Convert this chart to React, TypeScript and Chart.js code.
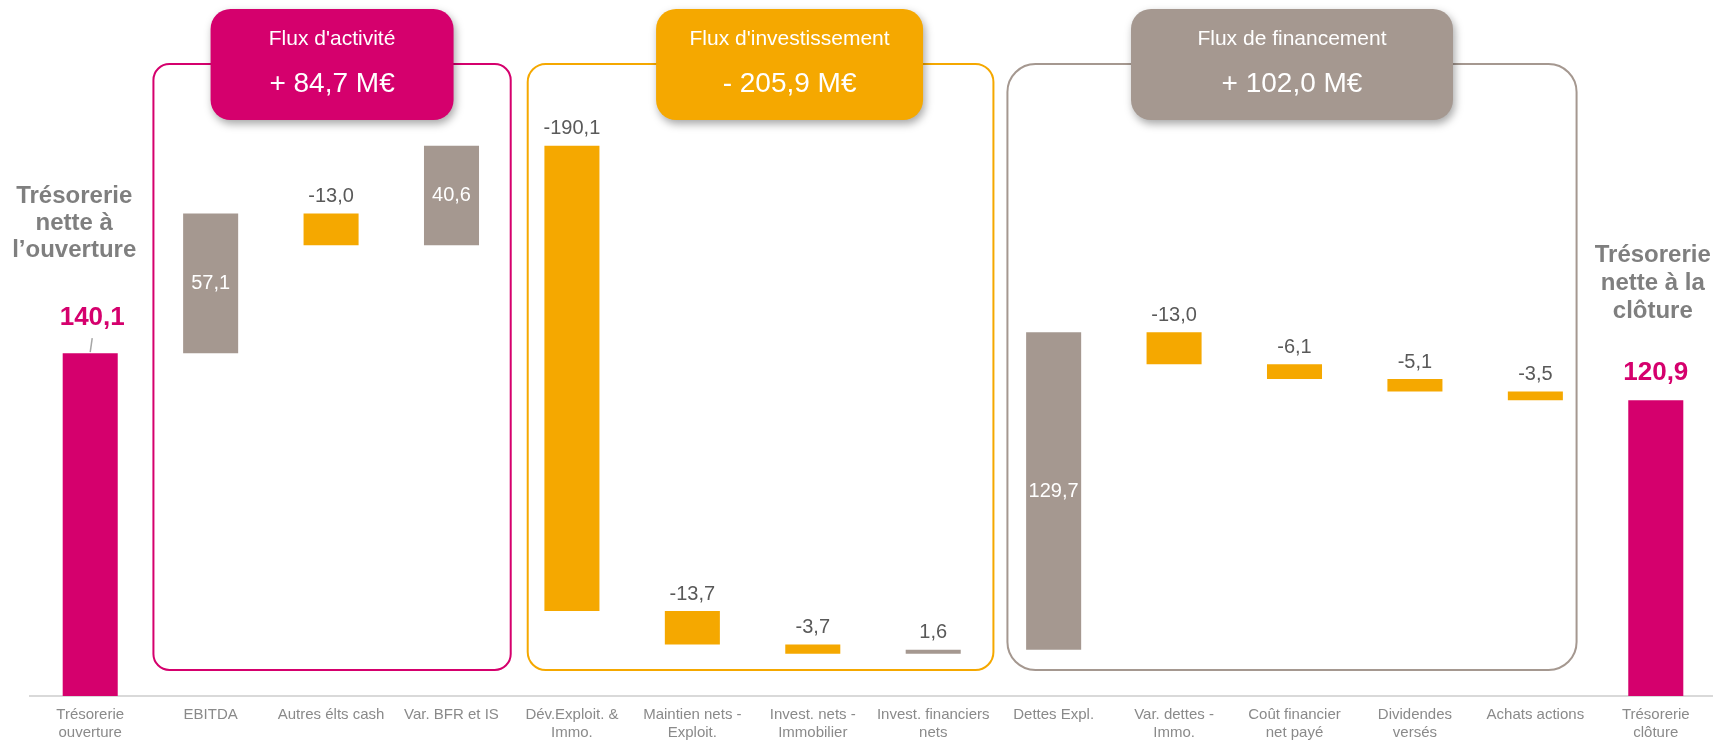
import React, { useEffect, useRef } from "react";
import { Chart, registerables } from "chart.js";

Chart.register(...registerables);

// ---------------- data ----------------
const categories: string[][] = [
  ["Trésorerie", "ouverture"],
  ["EBITDA"],
  ["Autres élts cash"],
  ["Var. BFR et IS"],
  ["Dév.Exploit. &", "Immo."],
  ["Maintien nets -", "Exploit."],
  ["Invest. nets -", "Immobilier"],
  ["Invest. financiers", "nets"],
  ["Dettes Expl."],
  ["Var. dettes -", "Immo."],
  ["Coût financier", "net payé"],
  ["Dividendes", "versés"],
  ["Achats actions"],
  ["Trésorerie", "clôture"],
];
const openingCash = 140.1;
const flows = [57.1, -13.0, 40.6, -190.1, -13.7, -3.7, 1.6, 129.7, -13.0, -6.1, -5.1, -3.5];
const closingCash = 120.9;

const groupNames = ["Flux d'activité", "Flux d'investissement", "Flux de financement"];
const groupTotals = ["+ 84,7 M€", "- 205,9 M€", "+ 102,0 M€"];
const groupFirst = [1, 4, 8];
const groupLast = [3, 7, 12];

const openTitle = ["Trésorerie", "nette à", "l’ouverture"];
const closeTitle = ["Trésorerie", "nette à la", "clôture"];

// ---------------- styles ----------------
const MAGENTA = "#D5006D";
const ORANGE = "#F5A800";
const GREY = "#A59890";
const FONT = "'Liberation Sans', Arial, sans-serif";

const groupStyles = [
  { color: MAGENTA, insetL: 3, insetR: 1, radius: 16, headerW: 243, headerShift: 0 },
  { color: ORANGE, insetL: 16, insetR: 0, radius: 18, headerW: 267, headerShift: 29 },
  { color: GREY, insetL: 14, insetR: 19, radius: 28, headerW: 322, headerShift: 0 },
];

const fmt = (v: number) => v.toFixed(1).replace(".", ",");

function roundRect(ctx: CanvasRenderingContext2D, x: number, y: number, w: number, h: number, r: number) {
  ctx.beginPath();
  ctx.moveTo(x + r, y);
  ctx.lineTo(x + w - r, y);
  ctx.arcTo(x + w, y, x + w, y + r, r);
  ctx.lineTo(x + w, y + h - r);
  ctx.arcTo(x + w, y + h, x + w - r, y + h, r);
  ctx.lineTo(x + r, y + h);
  ctx.arcTo(x, y + h, x, y + h - r, r);
  ctx.lineTo(x, y + r);
  ctx.arcTo(x, y, x + r, y, r);
  ctx.closePath();
}

export default function App() {
  const ref = useRef<HTMLCanvasElement | null>(null);

  useEffect(() => {
    if (!ref.current) return;

    // floating ranges
    const ranges: [number, number][] = [[0, openingCash]];
    const colors: string[] = [MAGENTA];
    let cum = openingCash;
    flows.forEach((f) => {
      ranges.push([cum, cum + f]);
      colors.push(f >= 0 ? GREY : ORANGE);
      cum += f;
    });
    ranges.push([0, closingCash]);
    colors.push(MAGENTA);
    const values = [openingCash, ...flows, closingCash];
    const last = values.length - 1;

    const decor = {
      id: "decor",
      beforeDatasetsDraw(chart: any) {
        const ctx: CanvasRenderingContext2D = chart.ctx;
        const xs = chart.scales.x;
        const area = chart.chartArea;
        const half = (xs.getPixelForValue(1) - xs.getPixelForValue(0)) / 2;
        const boxTop = 64;
        const boxBottom = area.bottom - 26;
        ctx.save();
        // group outlines
        groupStyles.forEach((g, i) => {
          const l = xs.getPixelForValue(groupFirst[i]) - half + g.insetL;
          const r = xs.getPixelForValue(groupLast[i]) + half - g.insetR;
          ctx.lineWidth = 2;
          ctx.strokeStyle = g.color;
          roundRect(ctx, l, boxTop, r - l, boxBottom - boxTop, g.radius);
          ctx.stroke();
        });
        // headers
        groupStyles.forEach((g, i) => {
          const l = xs.getPixelForValue(groupFirst[i]) - half + g.insetL;
          const r = xs.getPixelForValue(groupLast[i]) + half - g.insetR;
          const cx = (l + r) / 2 + g.headerShift;
          const hx = cx - g.headerW / 2;
          ctx.save();
          ctx.shadowColor = "rgba(0,0,0,0.35)";
          ctx.shadowBlur = 8;
          ctx.shadowOffsetX = 2;
          ctx.shadowOffsetY = 4;
          ctx.fillStyle = g.color;
          roundRect(ctx, hx, 9, g.headerW, 111, 20);
          ctx.fill();
          ctx.restore();
          ctx.fillStyle = "#FFFFFF";
          ctx.textAlign = "center";
          ctx.textBaseline = "middle";
          ctx.font = `21px ${FONT}`;
          ctx.fillText(groupNames[i], cx, 39);
          ctx.font = `28px ${FONT}`;
          ctx.fillText(groupTotals[i], cx, 84);
        });
        ctx.restore();
      },
      afterDatasetsDraw(chart: any) {
        const ctx: CanvasRenderingContext2D = chart.ctx;
        const xs = chart.scales.x;
        const ys = chart.scales.y;
        const area = chart.chartArea;
        ctx.save();
        ctx.textAlign = "center";
        ctx.textBaseline = "middle";
        // category labels
        ctx.font = `15px ${FONT}`;
        ctx.fillStyle = "#8A8A8A";
        categories.forEach((lines, i) => {
          const x = xs.getPixelForValue(i);
          lines.forEach((t, k) => ctx.fillText(t, x, area.bottom + 19 + k * 18));
        });
        // value labels
        ranges.forEach((rg, i) => {
          const x = xs.getPixelForValue(i);
          const top = ys.getPixelForValue(Math.max(rg[0], rg[1]));
          const bot = ys.getPixelForValue(Math.min(rg[0], rg[1]));
          if (i === 0 || i === last) {
            ctx.font = `bold 26px ${FONT}`;
            ctx.fillStyle = MAGENTA;
            const dy = i === 0 ? 35 : 27;
            ctx.fillText(fmt(values[i]), x + (i === 0 ? 2 : 0), top - dy);
            if (i === 0) {
              ctx.strokeStyle = "#A6A6A6";
              ctx.lineWidth = 1.5;
              ctx.beginPath();
              ctx.moveTo(x + 2, top - 15);
              ctx.lineTo(x, top - 1);
              ctx.stroke();
            }
            return;
          }
          ctx.font = `20px ${FONT}`;
          if (values[i] > 0 && bot - top > 30) {
            ctx.fillStyle = "#FFFFFF";
            ctx.fillText(fmt(values[i]), x, (top + bot) / 2);
          } else {
            ctx.fillStyle = "#595959";
            ctx.fillText(fmt(values[i]), x, top - 17);
          }
        });
        // side titles
        ctx.font = `bold 24px ${FONT}`;
        ctx.fillStyle = "#7F7F7F";
        const xo = xs.getPixelForValue(0) - 16;
        openTitle.forEach((t, k) => ctx.fillText(t, xo, 196 + k * 27));
        const xc = xs.getPixelForValue(last) - 3;
        closeTitle.forEach((t, k) => ctx.fillText(t, xc, 255 + k * 28));
        ctx.restore();
      },
    };

    const chart = new Chart(ref.current, {
      type: "bar",
      data: {
        labels: categories.map((c) => c.join(" ")),
        datasets: [
          {
            data: ranges as any,
            backgroundColor: colors,
            borderWidth: 0,
            barPercentage: 0.457,
            categoryPercentage: 1,
          },
        ],
      },
      options: {
        animation: false,
        responsive: false,
        layout: { padding: { left: 30, right: 0, top: 0, bottom: 44 } },
        plugins: { legend: { display: false }, tooltip: { enabled: false } },
        scales: {
          x: {
            grid: { display: false, drawTicks: false },
            ticks: { display: false },
            border: { display: true, color: "#D9D9D9", width: 2 },
          },
          y: { display: false, min: 0, max: 284.4 },
        },
      },
      plugins: [decor],
    });
    return () => chart.destroy();
  }, []);

  return (
    <div style={{ position: "fixed", left: 0, top: 0, width: 1713, height: 740, overflow: "hidden", background: "#fff" }}>
      <canvas ref={ref} width={1716} height={740} style={{ display: "block" }} />
    </div>
  );
}
